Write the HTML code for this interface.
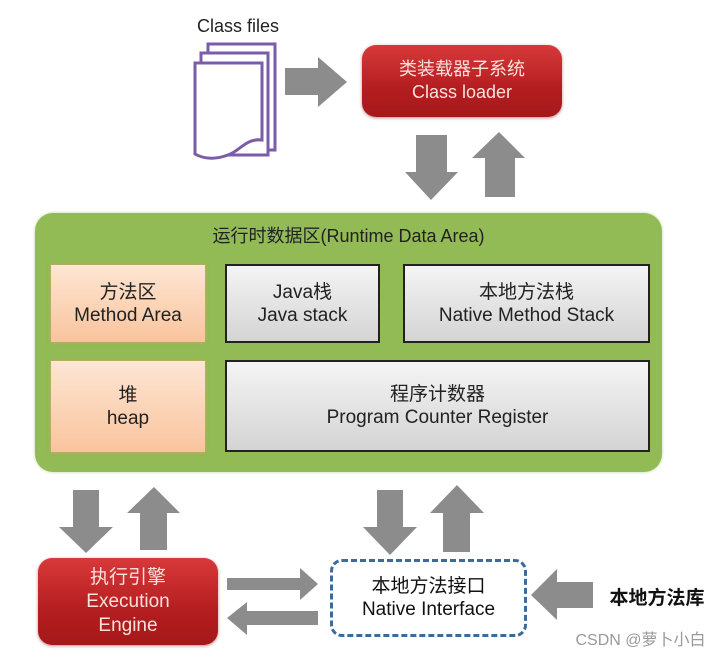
<!DOCTYPE html>
<html><head><meta charset="utf-8"><style>
body{margin:0;width:721px;height:658px;background:#fff;position:relative;overflow:hidden;font-family:"Liberation Sans","Noto Sans CJK SC",sans-serif}
.a{position:absolute;box-sizing:border-box;display:flex;flex-direction:column;align-items:center;justify-content:center;text-align:center;line-height:23px;font-size:19px}
.red{background:linear-gradient(#d8393a,#b41e20 60%,#a5181a);border-radius:14px;color:#fbe0dc;box-shadow:0 1px 3px #b88}
.or{background:linear-gradient(#fde6d3,#f9c49d);color:#222;box-shadow:0 0 3px #e0a070}
.gr{background:linear-gradient(#f4f4f4,#d4d4d4);border:2px solid #222;color:#222}
svg{position:absolute;left:0;top:0}
</style></head><body>
<div class="a" style="left:190px;top:12px;width:96px;height:28px;font-size:18px;color:#222">Class files</div>
<div class="a red" style="left:362px;top:45px;width:200px;height:72px;font-size:18px">类装载器子系统<br>Class loader</div>
<div class="a" style="left:35px;top:213px;width:627px;height:259px;background:#92ba55;border-radius:18px;justify-content:flex-start;padding-top:12px;color:#222;font-size:18px;box-shadow:0 0 3px #bcd89a">运行时数据区(Runtime Data Area)</div>
<div class="a or" style="left:51px;top:265px;width:154px;height:77px">方法区<br>Method Area</div>
<div class="a gr" style="left:225px;top:264px;width:155px;height:79px">Java栈<br>Java stack</div>
<div class="a gr" style="left:403px;top:264px;width:247px;height:79px">本地方法栈<br>Native Method Stack</div>
<div class="a or" style="left:51px;top:361px;width:154px;height:91px">堆<br>heap</div>
<div class="a gr" style="left:225px;top:360px;width:425px;height:92px">程序计数器<br>Program Counter Register</div>
<div class="a red" style="left:38px;top:558px;width:180px;height:87px;line-height:24px">执行引擎<br>Execution<br>Engine</div>
<div class="a" style="left:330px;top:559px;width:197px;height:78px;border:3px dashed #3e6a9a;border-radius:12px;color:#111;font-size:19px">本地方法接口<br>Native Interface</div>
<div class="a" style="left:604px;top:584px;width:106px;height:28px;font-size:19px;color:#111;font-weight:bold">本地方法库</div>
<div class="a" style="left:568px;top:628px;width:145px;height:24px;font-size:16px;color:#999">CSDN @萝卜小白</div>
<svg width="721" height="658">
<g fill="#fff" stroke="#7a5ca8" stroke-width="3">
<path d="M208 44H275V150H208Z"/>
<path d="M201 53H268V155H201Z"/>
<path d="M195 63H262V140C245 138 240 152 225 156C212 160 202 158 195 154Z"/>
</g>
<g fill="#8c8c8c">
<path d="M285 68H318V57L347 82L318 107V95H285Z"/>
<path d="M416 135H447V172H458L431 200L405 172H416Z"/>
<path d="M485 197H515V158H525L499 132L472 158H485Z"/>
<path d="M73 490H99V527H113L86 553L59 527H73Z"/>
<path d="M140 550H167V513H180L154 487L127 513H140Z"/>
<path d="M377 490H403V527H417L390 555L363 527H377Z"/>
<path d="M443 552H470V513H484L457 485L430 513H443Z"/>
<path d="M227 578H300V568L318 584L300 600V590H227Z"/>
<path d="M318 611H247V602L227 618L247 635V625H318Z"/>
<path d="M593 582H557V569L531 595L557 620V608H593Z"/>
</g>
</svg>
</body></html>
